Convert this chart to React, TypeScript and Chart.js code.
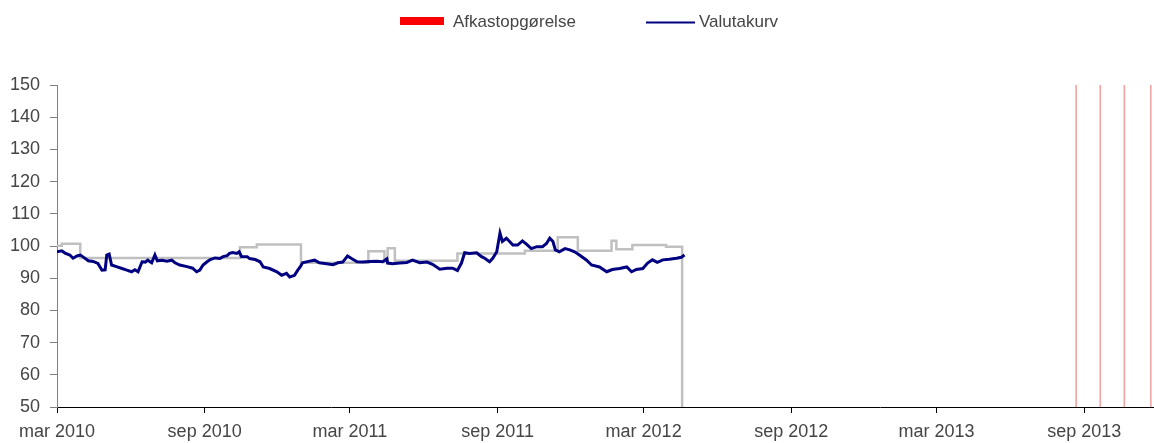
import { useEffect, useRef } from 'react';
import { Chart, registerables } from 'chart.js';

Chart.register(...registerables);

// ---- data ----
const axisStart = '2010-03-01';
const axisEnd = '2013-11-27';

const tickDates = ['2010-03-01', '2010-09-01', '2011-03-01', '2011-09-01', '2012-03-01', '2012-09-01', '2013-03-01', '2013-09-01'];
const tickLabels = ['mar 2010', 'sep 2010', 'mar 2011', 'sep 2011', 'mar 2012', 'sep 2012', 'mar 2013', 'sep 2013'];

const yMin = 50;
const yMax = 150;
const yStep = 10;

const seriesNames = ['Afkastopgørelse', 'Valutakurv'];

const blueDates = [
  '2010-03-01', '2010-03-07', '2010-03-11', '2010-03-17', '2010-03-21', '2010-03-26', '2010-03-30', '2010-04-02',
  '2010-04-09', '2010-04-15', '2010-04-21', '2010-04-26', '2010-04-30', '2010-05-02', '2010-05-05', '2010-05-08',
  '2010-05-15', '2010-05-21', '2010-05-27', '2010-06-02', '2010-06-06', '2010-06-10', '2010-06-15', '2010-06-19',
  '2010-06-22', '2010-06-27', '2010-07-01', '2010-07-04', '2010-07-10', '2010-07-16', '2010-07-22', '2010-07-26',
  '2010-08-01', '2010-08-10', '2010-08-17', '2010-08-22', '2010-08-26', '2010-08-30', '2010-09-04', '2010-09-08',
  '2010-09-14', '2010-09-20', '2010-09-24', '2010-09-29', '2010-10-02', '2010-10-06', '2010-10-11', '2010-10-14',
  '2010-10-17', '2010-10-24', '2010-10-27', '2010-11-03', '2010-11-09', '2010-11-13', '2010-11-21', '2010-11-30',
  '2010-12-06', '2010-12-12', '2010-12-16', '2010-12-22', '2010-12-26', '2010-12-29', '2011-01-01', '2011-01-10',
  '2011-01-16', '2011-01-22', '2011-01-31', '2011-02-08', '2011-02-14', '2011-02-20', '2011-02-26', '2011-03-03',
  '2011-03-10', '2011-03-17', '2011-03-26', '2011-04-03', '2011-04-11', '2011-04-16', '2011-04-17', '2011-04-23',
  '2011-05-02', '2011-05-11', '2011-05-18', '2011-05-27', '2011-06-05', '2011-06-12', '2011-06-21', '2011-06-30',
  '2011-07-07', '2011-07-13', '2011-07-18', '2011-07-22', '2011-07-28', '2011-08-06', '2011-08-12', '2011-08-16',
  '2011-08-22', '2011-08-26', '2011-08-31', '2011-09-04', '2011-09-07', '2011-09-12', '2011-09-16', '2011-09-20',
  '2011-09-26', '2011-10-02', '2011-10-07', '2011-10-13', '2011-10-20', '2011-10-27', '2011-11-01', '2011-11-05',
  '2011-11-09', '2011-11-12', '2011-11-17', '2011-11-24', '2011-11-30', '2011-12-06', '2011-12-12', '2011-12-21',
  '2011-12-27', '2012-01-06', '2012-01-15', '2012-01-22', '2012-01-31', '2012-02-09', '2012-02-15', '2012-02-21',
  '2012-02-29', '2012-03-06', '2012-03-12', '2012-03-18', '2012-03-25', '2012-04-02', '2012-04-11', '2012-04-17',
  '2012-04-21',
];
const blueValues = [
  98.2, 98.5, 97.8, 97.2, 96.2, 96.9, 97.2, 96.7,
  95.4, 95.2, 94.6, 92.5, 92.6, 97.2, 97.5, 94.1,
  93.5, 93.0, 92.5, 92.0, 92.6, 92.0, 95.1, 95.0,
  95.6, 94.8, 97.2, 95.4, 95.6, 95.3, 95.6, 94.8,
  94.1, 93.6, 93.1, 92.0, 92.5, 94.1, 95.1, 95.8,
  96.3, 96.1, 96.7, 97.0, 97.7, 98.0, 97.7, 98.2,
  96.7, 96.7, 96.1, 95.8, 95.1, 93.5, 93.0, 92.0,
  90.9, 91.5, 90.4, 90.9, 92.5, 93.5, 94.8, 95.3,
  95.6, 94.8, 94.5, 94.2, 94.8, 95.0, 96.9, 96.1,
  95.1, 95.0, 95.2, 95.3, 95.1, 96.0, 94.7, 94.5,
  94.7, 94.9, 95.6, 94.8, 95.0, 94.3, 92.8, 93.1,
  93.1, 92.4, 94.7, 97.9, 97.7, 97.9, 96.7, 96.2,
  95.1, 96.2, 98.2, 104.0, 101.4, 102.4, 101.4, 100.3,
  100.3, 101.6, 100.6, 99.2, 99.8, 99.8, 100.8, 102.4,
  101.4, 98.8, 98.2, 99.2, 98.8, 98.2, 97.2, 95.6,
  94.1, 93.5, 92.0, 92.7, 93.0, 93.5, 92.0, 92.7,
  93.0, 94.7, 95.7, 94.9, 95.7, 95.9, 96.2, 96.5,
  97.2,
];

const grayDates = [
  '2010-03-01', '2010-03-07', '2010-03-30', '2010-10-15', '2010-11-05', '2010-12-30', '2011-03-24', '2011-04-13',
  '2011-04-17', '2011-04-26', '2011-07-13', '2011-10-05', '2011-11-15', '2011-12-10', '2012-01-21', '2012-01-27',
  '2012-02-16', '2012-03-29', '2012-04-18',
];
const grayValues = [
  100.1, 100.7, 96.3, 99.6, 100.5, 94.8, 98.4, 95.0,
  99.3, 95.4, 97.7, 98.5, 102.7, 98.5, 101.6, 99.0,
  100.3, 99.8, 0,
];

const reportDates = ['2013-08-22', '2013-09-21', '2013-10-21', '2013-11-23'];
const reportValues = [150, 150, 150, 150];

// ---- helpers ----
const DAY = 86400000;
const toDay = (s: string) => (Date.parse(s + 'T00:00:00Z') - Date.parse(axisStart + 'T00:00:00Z')) / DAY;

const FONT = '"Liberation Sans", Arial, sans-serif';
const TEXT = '#454545';

const legendPlugin = {
  id: 'customLegend',
  afterDraw(chart: any) {
    const ctx = chart.ctx as CanvasRenderingContext2D;
    ctx.save();
    ctx.font = `17px ${FONT}`;
    ctx.textBaseline = 'alphabetic';
    // item 1: red box
    ctx.fillStyle = '#ff0000';
    ctx.fillRect(400, 17, 44, 8);
    ctx.fillStyle = TEXT;
    ctx.fillText(chart.data.datasets[0].label, 453, 27);
    // item 2: line
    ctx.strokeStyle = '#000080';
    ctx.lineWidth = 2;
    ctx.beginPath();
    ctx.moveTo(646, 22.5);
    ctx.lineTo(695, 22.5);
    ctx.stroke();
    ctx.fillStyle = TEXT;
    ctx.fillText(chart.data.datasets[1].label, 699, 27);
    ctx.restore();
  },
};

export default function App() {
  const ref = useRef<HTMLCanvasElement | null>(null);

  useEffect(() => {
    document.body.style.margin = '0';
    if (!ref.current) return;
    const chart = new Chart(ref.current, {
      type: 'line',
      data: {
        datasets: [
          {
            type: 'bar',
            label: seriesNames[0],
            data: reportDates.map((d, i) => ({ x: toDay(d), y: reportValues[i] })),
            backgroundColor: '#f5a5a5',
            borderWidth: 0,
            barThickness: 1,
            order: 3,
          } as any,
          {
            type: 'line',
            label: seriesNames[1],
            data: blueDates.map((d, i) => ({ x: toDay(d), y: blueValues[i] })),
            borderColor: '#000080',
            borderWidth: 3,
            pointRadius: 0,
            tension: 0,
            order: 1,
          },
          {
            type: 'line',
            label: '',
            data: grayDates.map((d, i) => ({ x: toDay(d), y: grayValues[i] })),
            borderColor: '#c0c0c0',
            borderWidth: 2.5,
            pointRadius: 0,
            stepped: 'before',
            order: 2,
          },
        ],
      },
      options: {
        animation: false,
        responsive: false,
        layout: { padding: { top: 85, left: 0, right: 0, bottom: 0 } },
        plugins: { legend: { display: false }, tooltip: { enabled: false } },
        scales: {
          x: {
            type: 'linear',
            min: 0,
            max: toDay(axisEnd),
            offset: false,
            grid: { offset: false, drawOnChartArea: false, drawTicks: true, tickLength: 6, color: '#000000' },
            border: { color: '#000000', width: 1 },
            afterBuildTicks: (scale: any) => {
              scale.ticks = tickDates.map((d) => ({ value: toDay(d) }));
            },
            afterFit: (scale: any) => {
              scale.height = 36;
            },
            ticks: {
              autoSkip: false,
              maxRotation: 0,
              padding: 8,
              color: TEXT,
              font: { family: FONT, size: 18 },
              callback: (_v: any, i: number) => tickLabels[i],
            },
          },
          y: {
            min: yMin,
            max: yMax,
            grid: { drawOnChartArea: false, drawTicks: true, tickLength: 7, color: '#808080' },
            border: { color: '#808080', width: 1 },
            afterFit: (scale: any) => {
              scale.width = 57;
            },
            ticks: {
              stepSize: yStep,
              padding: 10,
              color: TEXT,
              font: { family: FONT, size: 18 },
            },
          },
        },
      },
      plugins: [legendPlugin],
    });
    return () => chart.destroy();
  }, []);

  return <canvas ref={ref} width={1154} height={443} style={{ display: 'block' }} />;
}
